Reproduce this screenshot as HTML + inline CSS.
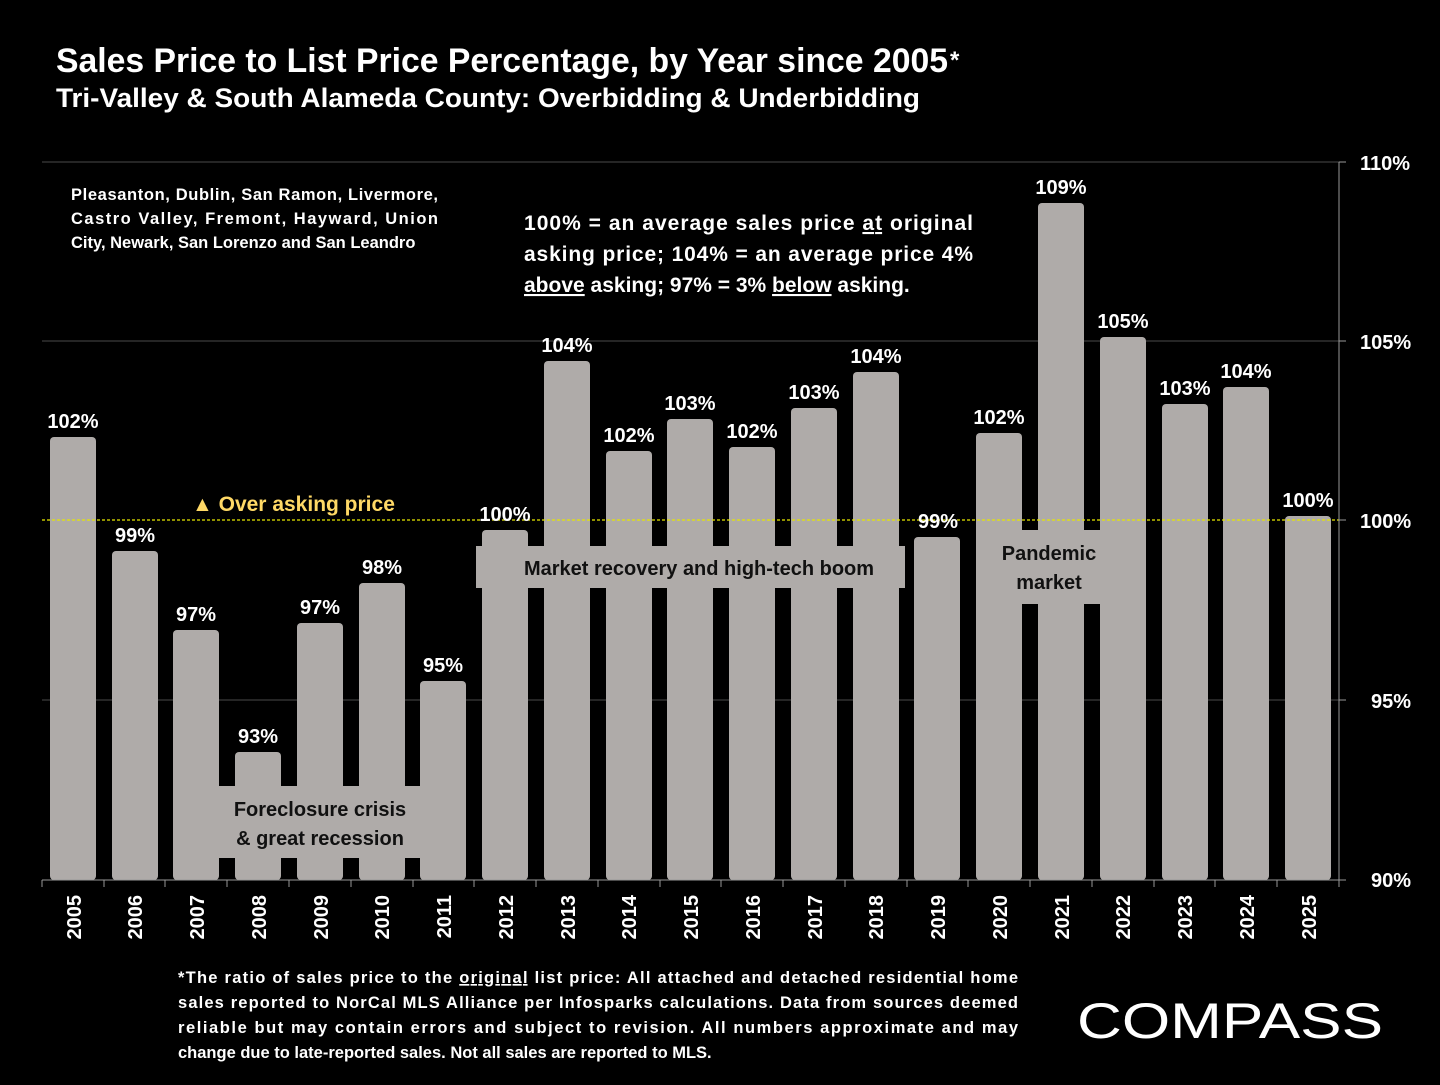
<!DOCTYPE html>
<html><head><meta charset="utf-8"><style>
body{margin:0;background:#000;}
svg text{font-family:"Liberation Sans",sans-serif;font-weight:bold;}
</style></head><body>
<svg width="1440" height="1080" viewBox="0 0 1440 1080" xmlns="http://www.w3.org/2000/svg">
<rect width="1440" height="1080" fill="#000"/>
<text x="56" y="72" font-size="34" fill="#fff" textLength="892" lengthAdjust="spacingAndGlyphs">Sales Price to List Price Percentage, by Year since 2005</text>
<text x="950" y="68" font-size="24" fill="#fff">*</text>
<text x="56" y="107" font-size="27" fill="#fff" textLength="864" lengthAdjust="spacingAndGlyphs">Tri-Valley &amp; South Alameda County: Overbidding &amp; Underbidding</text>
<g stroke="#4a4a4a" stroke-width="1">
<line x1="42" y1="162" x2="1339" y2="162"/><line x1="42" y1="341" x2="1339" y2="341"/><line x1="42" y1="700" x2="1339" y2="700"/>
</g>
<g fill="#afaba9">
<rect x="50" y="437" width="46" height="443" rx="4"/>
<rect x="112" y="551" width="46" height="329" rx="4"/>
<rect x="173" y="630" width="46" height="250" rx="4"/>
<rect x="235" y="752" width="46" height="128" rx="4"/>
<rect x="297" y="623" width="46" height="257" rx="4"/>
<rect x="359" y="583" width="46" height="297" rx="4"/>
<rect x="420" y="681" width="46" height="199" rx="4"/>
<rect x="482" y="530" width="46" height="350" rx="4"/>
<rect x="544" y="361" width="46" height="519" rx="4"/>
<rect x="606" y="451" width="46" height="429" rx="4"/>
<rect x="667" y="419" width="46" height="461" rx="4"/>
<rect x="729" y="447" width="46" height="433" rx="4"/>
<rect x="791" y="408" width="46" height="472" rx="4"/>
<rect x="853" y="372" width="46" height="508" rx="4"/>
<rect x="914" y="537" width="46" height="343" rx="4"/>
<rect x="976" y="433" width="46" height="447" rx="4"/>
<rect x="1038" y="203" width="46" height="677" rx="4"/>
<rect x="1100" y="337" width="46" height="543" rx="4"/>
<rect x="1162" y="404" width="46" height="476" rx="4"/>
<rect x="1223" y="387" width="46" height="493" rx="4"/>
<rect x="1285" y="516" width="46" height="364" rx="4"/>
<rect x="173" y="786" width="293" height="72"/>
<rect x="476" y="546" width="429" height="42"/>
<rect x="978" y="530" width="136" height="74"/>
</g>
<line x1="42" y1="520" x2="1339" y2="520" stroke="#e8e800" stroke-width="1.3" stroke-dasharray="3,2"/>
<g font-size="20" fill="#fff" text-anchor="middle">
<text x="73" y="428">102%</text><text x="135" y="542">99%</text><text x="196" y="621">97%</text>
<text x="258" y="743">93%</text><text x="320" y="614">97%</text><text x="382" y="574">98%</text>
<text x="443" y="672">95%</text><text x="505" y="521">100%</text><text x="567" y="352">104%</text>
<text x="629" y="442">102%</text><text x="690" y="410">103%</text><text x="752" y="438">102%</text>
<text x="814" y="399">103%</text><text x="876" y="363">104%</text><text x="938" y="528">99%</text>
<text x="999" y="424">102%</text><text x="1061" y="194">109%</text><text x="1123" y="328">105%</text>
<text x="1185" y="395">103%</text><text x="1246" y="378">104%</text><text x="1308" y="507">100%</text>
</g>
<g font-size="20" fill="#111" text-anchor="middle">
<text x="320" y="816">Foreclosure crisis</text><text x="320" y="845">&amp; great recession</text>
<text x="699" y="575">Market recovery and high-tech boom</text>
<text x="1049" y="560">Pandemic</text><text x="1049" y="589">market</text>
</g>
<text x="192" y="511" font-size="21" fill="#ffd966">▲ Over asking price</text>
<g font-size="16.5" fill="#fff">
<text x="71" y="200" textLength="367" lengthAdjust="spacing">Pleasanton, Dublin, San Ramon, Livermore,</text>
<text x="71" y="224" textLength="367" lengthAdjust="spacing">Castro Valley, Fremont, Hayward, Union</text>
<text x="71" y="248">City, Newark, San Lorenzo and San Leandro</text>
</g>
<g font-size="21" fill="#fff">
<text x="524" y="230" textLength="449" lengthAdjust="spacing">100% = an average sales price <tspan text-decoration="underline">at</tspan> original</text>
<text x="524" y="261" textLength="449" lengthAdjust="spacing">asking price; 104% = an average price 4%</text>
<text x="524" y="292"><tspan text-decoration="underline">above</tspan> asking; 97% = 3% <tspan text-decoration="underline">below</tspan> asking.</text>
</g>
<line x1="1339" y1="162" x2="1339" y2="880" stroke="#999"/>
<g stroke="#999"><line x1="1339" y1="162" x2="1346" y2="162"/><line x1="1339" y1="341" x2="1346" y2="341"/><line x1="1339" y1="520" x2="1346" y2="520"/><line x1="1339" y1="700" x2="1346" y2="700"/><line x1="1339" y1="880" x2="1346" y2="880"/></g>
<g font-size="20" fill="#fff">
<text x="1360" y="170">110%</text><text x="1360" y="349">105%</text><text x="1360" y="528">100%</text><text x="1371" y="708">95%</text><text x="1371" y="887">90%</text>
</g>
<line x1="42" y1="880" x2="1339" y2="880" stroke="#999"/>
<g stroke="#999">
<line x1="42" y1="880" x2="42" y2="887"/><line x1="104" y1="880" x2="104" y2="887"/><line x1="165" y1="880" x2="165" y2="887"/><line x1="227" y1="880" x2="227" y2="887"/><line x1="289" y1="880" x2="289" y2="887"/><line x1="351" y1="880" x2="351" y2="887"/><line x1="413" y1="880" x2="413" y2="887"/><line x1="474" y1="880" x2="474" y2="887"/><line x1="536" y1="880" x2="536" y2="887"/><line x1="598" y1="880" x2="598" y2="887"/><line x1="660" y1="880" x2="660" y2="887"/><line x1="721" y1="880" x2="721" y2="887"/><line x1="783" y1="880" x2="783" y2="887"/><line x1="845" y1="880" x2="845" y2="887"/><line x1="907" y1="880" x2="907" y2="887"/><line x1="968" y1="880" x2="968" y2="887"/><line x1="1030" y1="880" x2="1030" y2="887"/><line x1="1092" y1="880" x2="1092" y2="887"/><line x1="1154" y1="880" x2="1154" y2="887"/><line x1="1215" y1="880" x2="1215" y2="887"/><line x1="1277" y1="880" x2="1277" y2="887"/><line x1="1339" y1="880" x2="1339" y2="887"/>
</g>
<g font-size="20" fill="#fff" text-anchor="end">
<text transform="translate(81,895) rotate(-90)">2005</text><text transform="translate(142,895) rotate(-90)">2006</text><text transform="translate(204,895) rotate(-90)">2007</text><text transform="translate(266,895) rotate(-90)">2008</text><text transform="translate(328,895) rotate(-90)">2009</text><text transform="translate(389,895) rotate(-90)">2010</text><text transform="translate(451,895) rotate(-90)">2011</text><text transform="translate(513,895) rotate(-90)">2012</text><text transform="translate(575,895) rotate(-90)">2013</text><text transform="translate(636,895) rotate(-90)">2014</text><text transform="translate(698,895) rotate(-90)">2015</text><text transform="translate(760,895) rotate(-90)">2016</text><text transform="translate(822,895) rotate(-90)">2017</text><text transform="translate(883,895) rotate(-90)">2018</text><text transform="translate(945,895) rotate(-90)">2019</text><text transform="translate(1007,895) rotate(-90)">2020</text><text transform="translate(1069,895) rotate(-90)">2021</text><text transform="translate(1130,895) rotate(-90)">2022</text><text transform="translate(1192,895) rotate(-90)">2023</text><text transform="translate(1254,895) rotate(-90)">2024</text><text transform="translate(1316,895) rotate(-90)">2025</text>
</g>
<g font-size="16.5" fill="#fff">
<text x="178" y="983" textLength="840" lengthAdjust="spacing">*The ratio of sales price to the <tspan text-decoration="underline">original</tspan> list price: All attached and detached residential home</text>
<text x="178" y="1008" textLength="840" lengthAdjust="spacing">sales reported to NorCal MLS Alliance per Infosparks calculations. Data from sources deemed</text>
<text x="178" y="1033" textLength="840" lengthAdjust="spacing">reliable but may contain errors and subject to revision. All numbers approximate and may</text>
<text x="178" y="1058">change due to late-reported sales. Not all sales are reported to MLS.</text>
</g>
<text x="1077" y="1038" font-size="50" fill="#fff" style="font-weight:normal" textLength="306" lengthAdjust="spacingAndGlyphs">COMPASS</text>
</svg>
</body></html>
